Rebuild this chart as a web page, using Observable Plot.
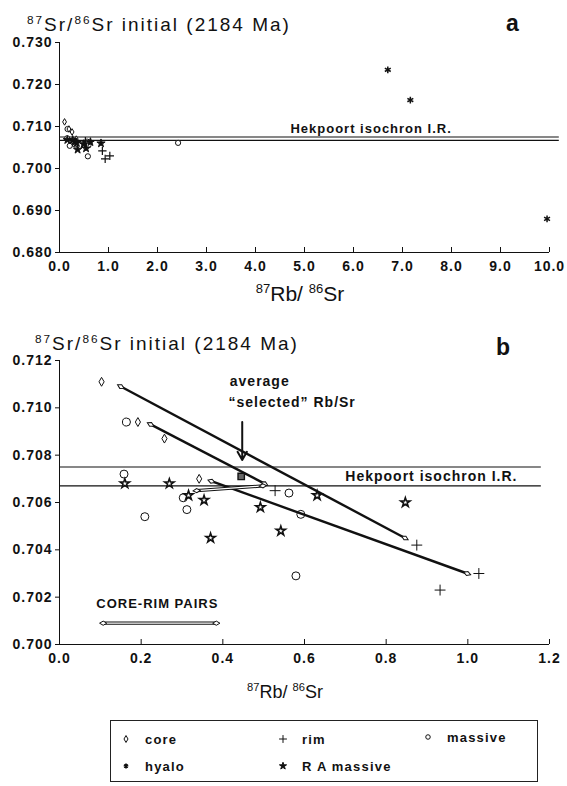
<!DOCTYPE html>
<html><head><meta charset="utf-8">
<script src="https://cdn.jsdelivr.net/npm/d3@7"></script>
<script src="https://cdn.jsdelivr.net/npm/@observablehq/plot@0.6"></script>
<style>
html,body{margin:0;padding:0;background:#fff;}
#fig{position:relative;width:567px;height:786px;overflow:hidden;font-family:"Liberation Sans",Arial,Helvetica,sans-serif;color:#111;}
.abs{position:absolute;white-space:nowrap;line-height:1;}
.title{font-size:19px;letter-spacing:2px;transform:translateY(-50%);}
.axt{transform:translate(-50%,-50%);}
.sup{font-size:0.62em;position:relative;top:-0.6em;}
.plot{position:absolute;left:0;}
.legend{position:absolute;border:1px solid #222;box-sizing:border-box;}
.leg{font-size:13px;font-weight:bold;letter-spacing:1.2px;transform:translateY(-50%);}
</style></head><body>
<div id="fig"></div>
<script>
// ---------------- data ----------------
const xTicksA = [0, 1, 2, 3, 4, 5, 6, 7, 8, 9, 10];
const yTicksA = [0.680, 0.690, 0.700, 0.710, 0.720, 0.730];
const xTicksB = [0, 0.2, 0.4, 0.6, 0.8, 1.0, 1.2];
const yTicksB = [0.700, 0.702, 0.704, 0.706, 0.708, 0.710, 0.712];

// [87Rb/86Sr, 87Sr/86Sr initial]
const core = [[0.103, 0.7111], [0.192, 0.7094], [0.257, 0.7087], [0.342, 0.7070]];
const rim = [[0.528, 0.7065], [0.875, 0.7042], [0.932, 0.7023], [1.027, 0.7030]];
const massive = [[0.164, 0.7094], [0.158, 0.7072], [0.209, 0.7054], [0.303, 0.7062], [0.312, 0.7057],
                 [0.562, 0.7064], [0.591, 0.7055], [0.579, 0.7029]];
const massiveHighRb = [[2.42, 0.7061]];
const hyalo = [[6.70, 0.7235], [7.16, 0.7163], [9.95, 0.6880]];
const raMassive = [[0.160, 0.7068], [0.269, 0.7068], [0.316, 0.7063], [0.354, 0.7061], [0.370, 0.7045],
                   [0.492, 0.7058], [0.542, 0.7048], [0.631, 0.7063], [0.847, 0.7060]];
const hekpoortIR = [0.7067, 0.7075];
// core -> rim pairs [x1, y1, x2, y2]
const coreRimTrends = [[0.150, 0.7109, 0.846, 0.7045], [0.223, 0.7093, 0.502, 0.7068], [0.372, 0.7069, 0.9985, 0.7030]];
const coreRimThin = [[0.336, 0.7065, 0.498, 0.7067]];
const averageSelected = [[0.445, 0.7071]];
const averageArrow = [[0.4475, 0.7094, 0.7078]];
const legendPair = [[0.107, 0.7009, 0.384, 0.7009]];
const legendLabels = ["core", "rim", "massive", "hyalo", "R A massive"];

// ---------------- helpers ----------------
const fig = document.getElementById("fig");
const FONT = "Liberation Sans, Arial, Helvetica, sans-serif";
const fmtY = d3.format(".3f"), fmtX = d3.format(".1f");
const INK = "#111";
function addDiv(html, cls, left, top) {
  const d = document.createElement("div");
  d.className = "abs " + cls; d.innerHTML = html;
  d.style.left = left + "px"; d.style.top = top + "px";
  fig.appendChild(d); return d;
}
const baseStyle = {fontFamily: FONT, fontSize: "14px", fontWeight: "bold", letterSpacing: "1px",
  background: "transparent", color: INK, overflow: "visible"};
const X = d => d[0], Y = d => d[1];
const ML = 59, MR = 18;

// ---------------- panel a ----------------
const plotA = Plot.plot({
  width: 567, height: 300, marginLeft: ML, marginRight: MR, marginTop: 42, marginBottom: 48,
  style: baseStyle,
  x: {domain: [0, 10]},
  y: {domain: [0.680, 0.730]},
  marks: [
    Plot.ruleY(hekpoortIR, {x1: 0, x2: 10.2, stroke: INK, strokeWidth: 1.2}),
    Plot.text(["Hekpoort isochron I.R."], {x: 6.36, y: 0.7075, dy: -8, fontSize: 13, fontWeight: "bold", fill: INK}),
    Plot.ruleX([0], {y1: 0.680, y2: 0.730, stroke: INK}),
    Plot.ruleY([0.680], {x1: 0, x2: 10, stroke: INK}),
    Plot.axisY({ticks: yTicksA, tickFormat: fmtY, tickSize: 4, tickPadding: 3, label: null}),
    Plot.axisX({ticks: xTicksA, tickFormat: fmtX, tickSize: -5, tickPadding: 14, label: null}),
    Plot.dot(massive.concat(massiveHighRb), {x: X, y: Y, symbol: "circle", r: 2.6, fill: "white", stroke: INK, strokeWidth: 1}),
    Plot.dot(core, {x: X, y: Y, symbol: "diamond", r: 2, fill: "white", stroke: INK, strokeWidth: 1}),
    Plot.dot(rim, {x: X, y: Y, symbol: "plus", r: 2.8, stroke: INK, strokeWidth: 1.2}),
    Plot.dot(raMassive, {x: X, y: Y, symbol: "star", r: 2.6, fill: INK, stroke: INK, strokeWidth: 1}),
    Plot.dot(hyalo, {x: X, y: Y, symbol: "asterisk", r: 3.2, stroke: INK, strokeWidth: 1.5})
  ]
});
plotA.classList.add("plot"); plotA.style.top = "0px";
fig.appendChild(plotA);

// ---------------- panel b ----------------
const B_TOP = 320, B_H = 360, B_MT = 40, B_MB = 36;
const bx = d3.scaleLinear([0, 1.2], [ML, 567 - MR]);
const by = d3.scaleLinear([0.700, 0.712], [B_H - B_MB, B_MT]);
const ang = (x1, y1, x2, y2) => Math.atan2(by(y2) - by(y1), bx(x2) - bx(x1)) * 180 / Math.PI;
const ends = arr => arr.flatMap(([x1, y1, x2, y2]) => {
  const a = ang(x1, y1, x2, y2) + 90;
  return [{x: x1, y: y1, a}, {x: x2, y: y2, a}];
});

const plotB = Plot.plot({
  width: 567, height: B_H, marginLeft: ML, marginRight: MR, marginTop: B_MT, marginBottom: B_MB,
  style: baseStyle,
  x: {domain: [0, 1.2]},
  y: {domain: [0.700, 0.712]},
  marks: [
    Plot.ruleY(hekpoortIR, {x1: 0, x2: 1.18, stroke: INK, strokeWidth: 1.2}),
    Plot.text(["Hekpoort isochron I.R."], {x: 0.70, y: 0.7071, textAnchor: "start", fontSize: 14, fontWeight: "bold", letterSpacing: "0.6px", fill: INK}),
    Plot.text(["average"], {x: 0.417, y: 0.71111, textAnchor: "start", fontSize: 14, fontWeight: "bold", fill: INK}),
    Plot.text(["\u201Cselected\u201D Rb/Sr"], {x: 0.414, y: 0.71022, textAnchor: "start", fontSize: 14, fontWeight: "bold", fill: INK}),
    Plot.text(["CORE-RIM PAIRS"], {x: 0.09, y: 0.7017, textAnchor: "start", fontSize: 13, fontWeight: "bold", letterSpacing: "0.5px", fill: INK}),
    Plot.ruleX([0], {y1: 0.700, y2: 0.712, stroke: INK}),
    Plot.ruleY([0.700], {x1: 0, x2: 1.2, stroke: INK}),
    Plot.axisY({ticks: yTicksB, tickFormat: fmtY, tickSize: 4, tickPadding: 3, label: null}),
    Plot.axisX({ticks: xTicksB, tickFormat: fmtX, tickSize: -5, tickPadding: 14, label: null}),
    // core-rim trend lines
    Plot.link(coreRimTrends, {x1: d => d[0], y1: d => d[1], x2: d => d[2], y2: d => d[3], stroke: INK, strokeWidth: 2.4}),
    Plot.link(coreRimThin.concat(legendPair), {x1: d => d[0], y1: d => d[1], x2: d => d[2], y2: d => d[3], stroke: INK, strokeWidth: 3.2}),
    Plot.link(coreRimThin.concat(legendPair), {x1: d => d[0], y1: d => d[1], x2: d => d[2], y2: d => d[3], stroke: "white", strokeWidth: 1.2}),
    Plot.dot(ends(coreRimTrends.concat(coreRimThin, legendPair)), {x: "x", y: "y", rotate: "a", symbol: "diamond", r: 2.2, fill: "white", stroke: INK, strokeWidth: 1}),
    Plot.arrow(averageArrow, {x: d => d[0], y1: d => d[1], y2: d => d[2], stroke: INK, strokeWidth: 2, headLength: 7}),
    Plot.dot(averageSelected, {x: X, y: Y, symbol: "square", r: 3.6, fill: "#666", stroke: INK, strokeWidth: 1.4}),
    // samples
    Plot.dot(massive, {x: X, y: Y, symbol: "circle", r: 4, fill: "none", stroke: INK, strokeWidth: 1}),
    Plot.dot(core, {x: X, y: Y, symbol: "diamond", r: 2.7, fill: "white", stroke: INK, strokeWidth: 1}),
    Plot.dot(rim, {x: X, y: Y, symbol: "plus", r: 3.6, stroke: INK, strokeWidth: 1}),
    Plot.dot(raMassive, {x: X, y: Y, symbol: "star", r: 2.9, fill: "white", stroke: INK, strokeWidth: 1.6})
  ]
});
plotB.classList.add("plot"); plotB.style.top = B_TOP + "px";
fig.appendChild(plotB);

// ---------------- titles / labels ----------------
const srTitle = '<span class="sup">87</span>Sr/<span class="sup">86</span>Sr initial (2184 Ma)';
addDiv(srTitle, "title", 27, 24);
addDiv(srTitle, "title", 35, 343);
addDiv("a", "", 506, 12).style.cssText += "font-size:23px;font-weight:bold;";
addDiv("b", "", 496, 336).style.cssText += "font-size:23px;font-weight:bold;";
addDiv('<span class="sup">87</span>Rb/ <span class="sup">86</span>Sr', "axt", 300, 293).style.fontSize = "21px";
addDiv('<span class="sup">87</span>Rb/ <span class="sup">86</span>Sr', "axt", 285, 692).style.fontSize = "18px";

// ---------------- legend ----------------
const lg = document.createElement("div");
lg.className = "legend";
Object.assign(lg.style, {left: "110px", top: "720px", width: "428px", height: "62px"});
fig.appendChild(lg);
const legendSym = [
  {type: d3.symbolDiamond, size: 14, fill: "white", sw: 1, cx: 126, cy: 739},
  {type: d3.symbolPlus, size: 22, fill: "none", sw: 1, cx: 283, cy: 739},
  {type: d3.symbolCircle, size: 16, fill: "white", sw: 1, cx: 428, cy: 737},
  {type: d3.symbolAsterisk, size: 16, fill: "none", sw: 1.6, cx: 126, cy: 766},
  {type: d3.symbolStar, size: 16, fill: INK, sw: 1, cx: 283, cy: 766}
];
legendSym.forEach((it, i) => {
  const p = d3.symbol(it.type, it.size)();
  const s = document.createElementNS("http://www.w3.org/2000/svg", "svg");
  s.setAttribute("width", 12); s.setAttribute("height", 12); s.setAttribute("viewBox", "-6 -6 12 12");
  s.style.cssText = `position:absolute;left:${it.cx - 6}px;top:${it.cy - 6}px;`;
  s.innerHTML = `<path d="${p}" fill="${it.fill}" stroke="${INK}" stroke-width="${it.sw}"/>`;
  fig.appendChild(s);
  addDiv(legendLabels[i], "leg", it.cx + 19, it.cy);
});
</script></body></html>
